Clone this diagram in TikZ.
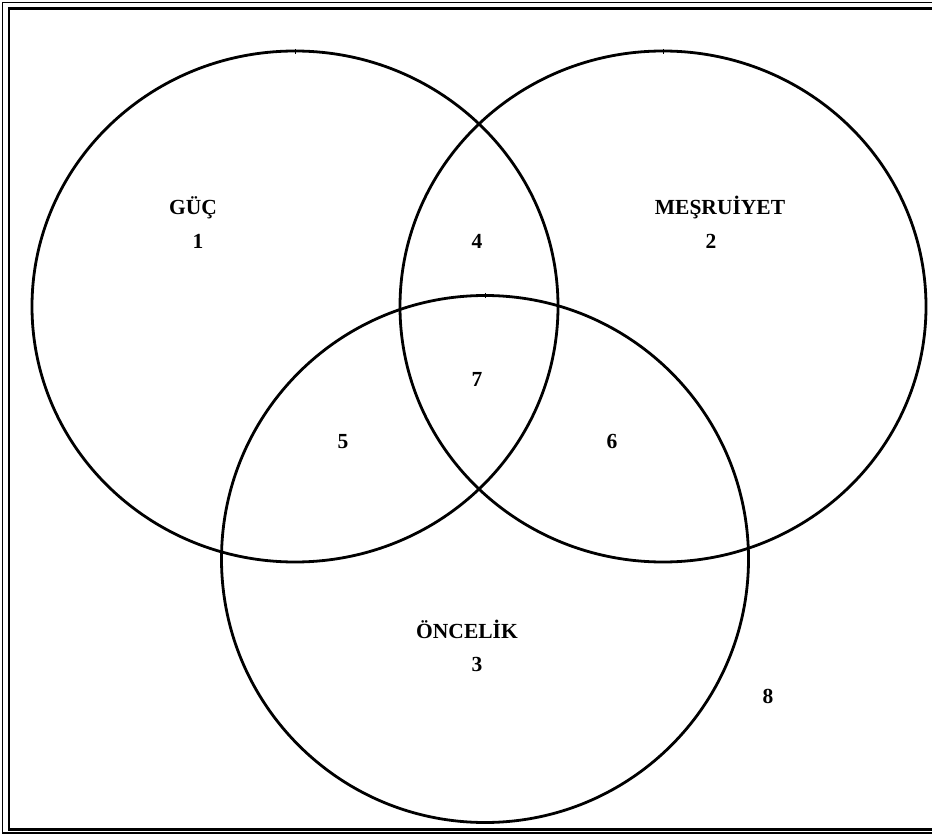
\documentclass[tikz,border=0pt]{standalone}
\usepackage{fontspec}
\setmainfont{Liberation Serif}
\begin{document}
\begin{tikzpicture}[x=1pt,y=-1pt,
  setring/.style={draw=black,line width=2.8pt},
  framethin/.style={draw=black,line width=1.6pt},
  framethick/.style={draw=black,line width=2.8pt},
  lbl/.style={font=\bfseries\fontsize{21.5}{25}\selectfont,inner sep=0pt,anchor=base}]
\useasboundingbox (0,0) rectangle (932,834);
\clip (0,0) rectangle (932,834);
% double page frame
\draw[framethin] (2.5,2.5) rectangle (950,833);
\draw[framethick] (9,8.5) rectangle (945,829.5);
% three sets
\draw[setring] (295,306.5) ellipse [x radius=263, y radius=255.5];
\draw[setring] (663,306.5) ellipse [x radius=263, y radius=255.5];
\draw[setring] (485,559) circle [radius=263.5];
% seam ticks at the top of each ring
\draw[line width=1pt] (295,49) -- (295,54);
\draw[line width=1pt] (663,49) -- (663,54);
\draw[line width=1pt] (485,293) -- (485,298);
% labels
\node[lbl] (guc) at (193,215) {GÜÇ};
\node[lbl] (n1) at (198,249) {1};
\node[lbl] (mes) at (720,215) {MEŞRUİYET};
\node[lbl] (n2) at (711,249) {2};
\node[lbl] (n4) at (477,249) {4};
\node[lbl] (n7) at (477,386) {7};
\node[lbl] (n5) at (343,448) {5};
\node[lbl] (n6) at (612,448) {6};
\node[lbl] (onc) at (467,638) {ÖNCELİK};
\node[lbl] (n3) at (477,671) {3};
\node[lbl] (n8) at (768,703) {8};
\end{tikzpicture}
\end{document}
